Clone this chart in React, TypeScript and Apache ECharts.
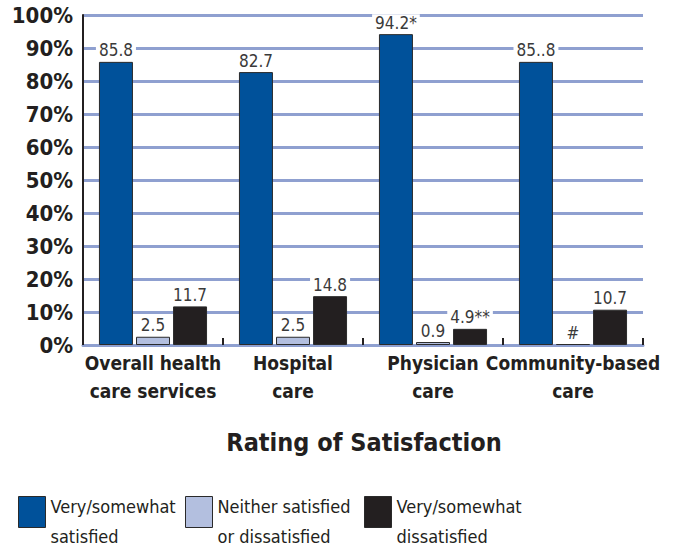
import React, { useEffect, useRef } from "react";
import * as echarts from "echarts";

const categories = ["Overall health\ncare services", "Hospital\ncare", "Physician\ncare", "Community-based\ncare"];
const seriesNames = ["Very/somewhat satisfied", "Neither satisfied or dissatisfied", "Very/somewhat dissatisfied"];
const legendLine1 = ["Very/somewhat", "Neither satisfied", "Very/somewhat"];
const legendLine2 = ["satisfied", "or dissatisfied", "dissatisfied"];
const satisfied = [85.8, 82.7, 94.2, 85.8];
const neither = [2.5, 2.5, 0.9, 0.3];
const dissatisfied = [11.7, 14.8, 4.9, 10.7];
const satisfiedLabels = ["85.8", "82.7", "94.2*", "85..8"];
const neitherLabels = ["2.5", "2.5", "0.9", "#"];
const dissatisfiedLabels = ["11.7", "14.8", "4.9**", "10.7"];
const yTicks = [0, 10, 20, 30, 40, 50, 60, 70, 80, 90, 100];

const FONT = "'DejaVu Sans Condensed', 'DejaVu Sans', sans-serif";
const colors = ["#00519a", "#b3bfdf", "#231f20"];

export default function App() {
  const ref = useRef<HTMLDivElement>(null);
  useEffect(() => {
    document.body.style.margin = "0";
    const chart = echarts.init(ref.current!, null, { renderer: "svg" });
    const mkSeries = (name: string, data: number[], labels: string[], color: string) => ({
      name,
      type: "bar",
      data,
      barWidth: 34,
      barGap: "9%",
      itemStyle: { color, borderColor: "#2a2a2a", borderWidth: 1 },
      label: {
        show: true,
        position: "top",
        distance: 3,
        formatter: (p: any) => labels[p.dataIndex],
        fontFamily: FONT,
        fontSize: 17,
        color: "#3a3a3a",
        backgroundColor: "#ffffff",
        padding: [0, 3, 0, 3],
      },
    });
    const legendLefts = [18, 185, 364];
    chart.setOption({
      animation: false,
      textStyle: { fontFamily: FONT },
      title: {
        text: "Rating of Satisfaction",
        left: 359,
        top: 425,
        textAlign: "center",
        textStyle: { fontFamily: FONT, fontSize: 25, fontWeight: "bold", color: "#231f20" },
      },
      legend: seriesNames.map((n, i) => ({
        data: [n],
        left: legendLefts[i],
        top: 480,
        padding: 0,
        itemWidth: 27,
        itemHeight: 31,
        itemGap: 0,
        icon: "rect",
        selectedMode: false,
        formatter: () => `{s| }\n{a|${legendLine1[i]}}\n{a|${legendLine2[i]}}`,
        itemStyle: { borderColor: "#2a2a2a", borderWidth: 1 },
        textStyle: {
          fontFamily: FONT,
          color: "#231f20",
          rich: {
            s: { fontSize: 4, lineHeight: 19 },
            a: { fontFamily: FONT, fontSize: 18, lineHeight: 30, color: "#231f20" },
          },
        },
      })),
      grid: { left: 83, right: 46, top: 15, bottom: 203, containLabel: false },
      xAxis: {
        type: "category",
        data: categories,
        axisLine: { show: true, lineStyle: { color: "#8fa0d0", width: 3 } },
        axisTick: { show: true, inside: true, length: 7, lineStyle: { color: "#231f20", width: 2 } },
        axisLabel: {
          fontFamily: FONT,
          fontSize: 19,
          lineHeight: 28,
          color: "#231f20",
          fontWeight: "bold",
          margin: 4,
          interval: 0,
        },
      },
      yAxis: {
        type: "value",
        min: yTicks[0],
        max: yTicks[yTicks.length - 1],
        interval: 10,
        axisLine: { show: true, lineStyle: { color: "#231f20", width: 2 } },
        axisTick: { show: false },
        splitLine: { show: true, lineStyle: { color: "#8fa0d0", width: 3 } },
        axisLabel: {
          formatter: "{value}%",
          fontFamily: FONT,
          fontSize: 22,
          fontWeight: "bold",
          color: "#231f20",
          margin: 10,
        },
      },
      series: [
        mkSeries(seriesNames[0], satisfied, satisfiedLabels, colors[0]),
        mkSeries(seriesNames[1], neither, neitherLabels, colors[1]),
        mkSeries(seriesNames[2], dissatisfied, dissatisfiedLabels, colors[2]),
      ],
    });
    return () => chart.dispose();
  }, []);
  return <div ref={ref} style={{ width: 689, height: 548 }} />;
}
